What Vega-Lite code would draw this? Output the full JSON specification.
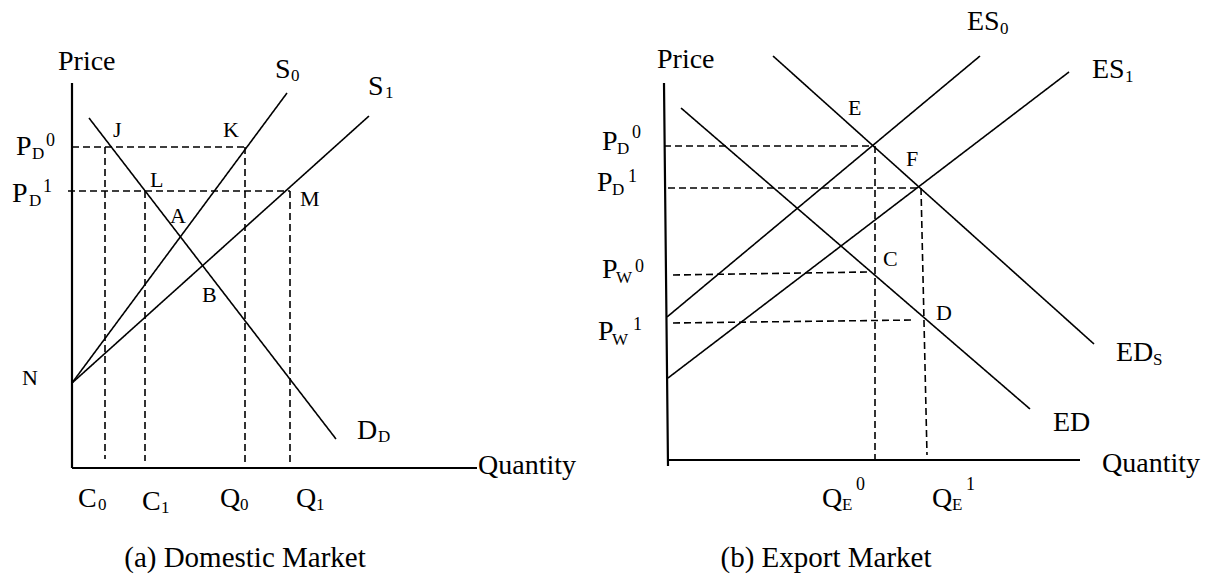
{
  "$schema": "https://vega.github.io/schema/vega-lite/v6.json",
  "width": 1222,
  "height": 577,
  "autosize": {"type": "fit", "contains": "padding"},
  "padding": 0,
  "background": "white",
  "config": {"view": {"stroke": null}},
  "datasets": {
    "segments": [
      {"name": "a price axis", "kind": "axis", "x1": 72, "y1": 83, "x2": 72, "y2": 468},
      {"name": "a quantity axis", "kind": "axis", "x1": 72, "y1": 468, "x2": 477, "y2": 468},
      {"name": "D_D", "kind": "curve", "x1": 89, "y1": 118, "x2": 336, "y2": 439},
      {"name": "S0", "kind": "curve", "x1": 72, "y1": 383, "x2": 287, "y2": 93},
      {"name": "S1", "kind": "curve", "x1": 72, "y1": 383, "x2": 369, "y2": 116},
      {"name": "PD0 a", "kind": "guide", "x1": 72, "y1": 147, "x2": 245, "y2": 147},
      {"name": "PD1 a", "kind": "guide", "x1": 68, "y1": 191, "x2": 290, "y2": 191},
      {"name": "C0", "kind": "guide", "x1": 105, "y1": 147, "x2": 105, "y2": 459},
      {"name": "C1", "kind": "guide", "x1": 145, "y1": 191, "x2": 145, "y2": 461},
      {"name": "Q0", "kind": "guide", "x1": 245, "y1": 147, "x2": 245, "y2": 464},
      {"name": "Q1", "kind": "guide", "x1": 290, "y1": 191, "x2": 290, "y2": 466},
      {"name": "b price axis", "kind": "axis", "x1": 664, "y1": 83, "x2": 668, "y2": 466},
      {"name": "b quantity axis", "kind": "axis", "x1": 668, "y1": 460, "x2": 1080, "y2": 460},
      {"name": "ES0", "kind": "curve", "x1": 667, "y1": 317, "x2": 980, "y2": 56},
      {"name": "ES1", "kind": "curve", "x1": 668, "y1": 378, "x2": 1069, "y2": 72},
      {"name": "ED", "kind": "curve", "x1": 681, "y1": 108, "x2": 1030, "y2": 409},
      {"name": "ED_S", "kind": "curve", "x1": 773, "y1": 56, "x2": 1094, "y2": 344},
      {"name": "PD0 b", "kind": "guide", "x1": 664, "y1": 146, "x2": 874, "y2": 146},
      {"name": "QE0", "kind": "guide", "x1": 875, "y1": 146, "x2": 875, "y2": 460},
      {"name": "PD1 b", "kind": "guide", "x1": 668, "y1": 188, "x2": 921, "y2": 188},
      {"name": "QE1", "kind": "guide", "x1": 921, "y1": 188, "x2": 927, "y2": 455},
      {"name": "PW0", "kind": "guide", "x1": 673, "y1": 275, "x2": 867, "y2": 272},
      {"name": "PW1", "kind": "guide", "x1": 673, "y1": 323, "x2": 915, "y2": 320}
    ],
    "labels": [
      {"t": "Price", "x": 58, "y": 70, "role": "title"},
      {"t": "Quantity", "x": 478, "y": 474, "role": "title"},
      {"t": "P", "x": 16, "y": 155, "role": "main"},
      {"t": "D", "x": 32, "y": 159, "role": "sub"},
      {"t": "0", "x": 46, "y": 146, "role": "sup"},
      {"t": "P", "x": 12, "y": 202, "role": "main"},
      {"t": "D", "x": 29, "y": 206, "role": "sub"},
      {"t": "1", "x": 43, "y": 192, "role": "sup"},
      {"t": "S", "x": 275, "y": 78, "role": "main"},
      {"t": "0", "x": 291, "y": 81, "role": "sub"},
      {"t": "S", "x": 368, "y": 95, "role": "main"},
      {"t": "1", "x": 385, "y": 98, "role": "sub"},
      {"t": "J", "x": 113, "y": 137, "role": "point"},
      {"t": "K", "x": 223, "y": 137, "role": "point"},
      {"t": "L", "x": 150, "y": 187, "role": "point"},
      {"t": "M", "x": 300, "y": 206, "role": "point"},
      {"t": "A", "x": 170, "y": 223, "role": "point"},
      {"t": "B", "x": 202, "y": 302, "role": "point"},
      {"t": "N", "x": 22, "y": 385, "role": "point"},
      {"t": "D", "x": 357, "y": 439, "role": "main"},
      {"t": "D", "x": 378, "y": 442, "role": "sub"},
      {"t": "C", "x": 78, "y": 507, "role": "main"},
      {"t": "0", "x": 98, "y": 510, "role": "sub"},
      {"t": "C", "x": 142, "y": 510, "role": "main"},
      {"t": "1", "x": 161, "y": 513, "role": "sub"},
      {"t": "Q", "x": 220, "y": 507, "role": "main"},
      {"t": "0", "x": 240, "y": 510, "role": "sub"},
      {"t": "Q", "x": 296, "y": 507, "role": "main"},
      {"t": "1", "x": 316, "y": 510, "role": "sub"},
      {"t": "Price", "x": 657, "y": 68, "role": "title"},
      {"t": "Quantity", "x": 1102, "y": 472, "role": "title"},
      {"t": "P", "x": 602, "y": 150, "role": "main"},
      {"t": "D", "x": 617, "y": 154, "role": "sub"},
      {"t": "0", "x": 632, "y": 138, "role": "sup"},
      {"t": "P", "x": 597, "y": 191, "role": "main"},
      {"t": "D", "x": 612, "y": 195, "role": "sub"},
      {"t": "1", "x": 628, "y": 182, "role": "sup"},
      {"t": "P", "x": 602, "y": 278, "role": "main"},
      {"t": "W", "x": 616, "y": 283, "role": "sub"},
      {"t": "0", "x": 635, "y": 272, "role": "sup"},
      {"t": "P", "x": 598, "y": 340, "role": "main"},
      {"t": "W", "x": 612, "y": 345, "role": "sub"},
      {"t": "1", "x": 633, "y": 330, "role": "sup"},
      {"t": "E", "x": 848, "y": 115, "role": "point"},
      {"t": "F", "x": 906, "y": 166, "role": "point"},
      {"t": "C", "x": 883, "y": 266, "role": "point"},
      {"t": "D", "x": 936, "y": 320, "role": "point"},
      {"t": "ES", "x": 967, "y": 30, "role": "main"},
      {"t": "0", "x": 1000, "y": 34, "role": "sub"},
      {"t": "ES", "x": 1092, "y": 78, "role": "main"},
      {"t": "1", "x": 1125, "y": 82, "role": "sub"},
      {"t": "ED", "x": 1116, "y": 361, "role": "main"},
      {"t": "S", "x": 1153, "y": 365, "role": "sub"},
      {"t": "ED", "x": 1053, "y": 431, "role": "main"},
      {"t": "Q", "x": 822, "y": 507, "role": "main"},
      {"t": "E", "x": 842, "y": 510, "role": "sub"},
      {"t": "0", "x": 856, "y": 490, "role": "sup"},
      {"t": "Q", "x": 932, "y": 507, "role": "main"},
      {"t": "E", "x": 952, "y": 510, "role": "sub"},
      {"t": "1", "x": 966, "y": 490, "role": "sup"}
    ],
    "captions": [
      {"t": "(a) Domestic Market", "x": 245, "y": 567},
      {"t": "(b) Export Market", "x": 826, "y": 567}
    ]
  },
  "layer": [
    {
      "data": {"name": "segments"},
      "mark": {"type": "rule", "color": "black"},
      "encoding": {
        "x": {"field": "x1", "type": "quantitative", "scale": {"domain": [0, 1222], "nice": false, "zero": false}, "axis": null},
        "y": {"field": "y1", "type": "quantitative", "scale": {"domain": [0, 577], "nice": false, "zero": false, "reverse": true}, "axis": null},
        "x2": {"field": "x2"},
        "y2": {"field": "y2"},
        "strokeDash": {"field": "kind", "type": "nominal", "scale": {"domain": ["axis", "curve", "guide"], "range": [[1, 0], [1, 0], [7, 4]]}, "legend": null},
        "strokeWidth": {"field": "kind", "type": "nominal", "scale": {"type": "ordinal", "domain": ["axis", "curve", "guide"], "range": [2.2, 1.6, 1.6]}, "legend": null}
      }
    },
    {
      "data": {"name": "labels"},
      "mark": {"type": "text", "align": "left", "baseline": "alphabetic", "font": "Liberation Serif", "color": "black"},
      "encoding": {
        "x": {"field": "x", "type": "quantitative", "scale": {"domain": [0, 1222], "nice": false, "zero": false}, "axis": null},
        "y": {"field": "y", "type": "quantitative", "scale": {"domain": [0, 577], "nice": false, "zero": false, "reverse": true}, "axis": null},
        "text": {"field": "t", "type": "nominal"},
        "size": {"field": "role", "type": "nominal", "scale": {"type": "ordinal", "domain": ["title", "main", "point", "sub", "sup"], "range": [28, 28, 22, 17, 18]}, "legend": null}
      }
    },
    {
      "data": {"name": "captions"},
      "mark": {"type": "text", "align": "center", "baseline": "alphabetic", "font": "Liberation Serif", "fontSize": 29, "color": "black"},
      "encoding": {
        "x": {"field": "x", "type": "quantitative", "scale": {"domain": [0, 1222], "nice": false, "zero": false}, "axis": null},
        "y": {"field": "y", "type": "quantitative", "scale": {"domain": [0, 577], "nice": false, "zero": false, "reverse": true}, "axis": null},
        "text": {"field": "t", "type": "nominal"}
      }
    }
  ]
}
